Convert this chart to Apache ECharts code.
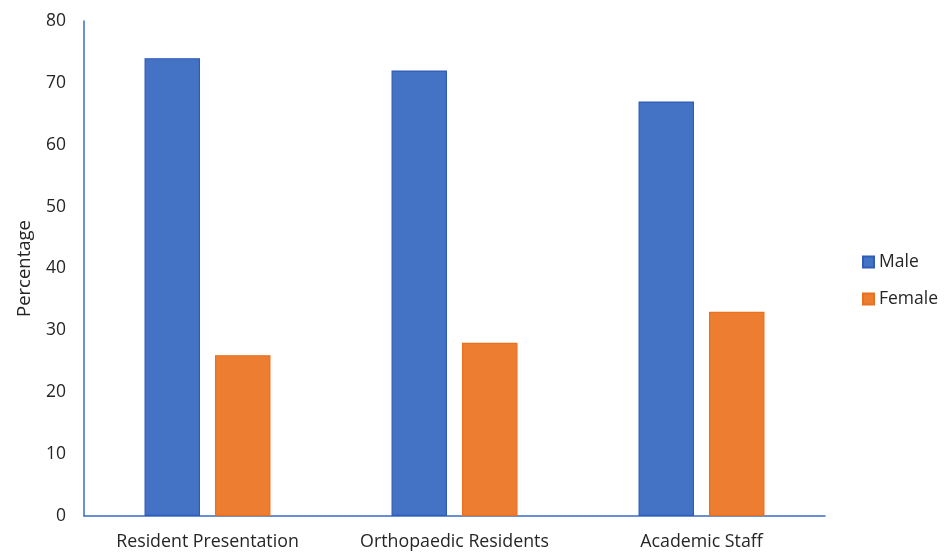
<!DOCTYPE html>
<html><head><meta charset="utf-8">
<script src="https://cdn.jsdelivr.net/npm/echarts@6/dist/echarts.min.js"></script>
<style>html,body{margin:0;padding:0;background:#fff}#c{width:945px;height:552px}</style>
</head><body><div id="c"></div>
<script>
const categories = ["Resident Presentation", "Orthopaedic Residents", "Academic Staff"];
const maleValues = [74, 72, 67];
const femaleValues = [26, 28, 33];
const yTicks = [0, 10, 20, 30, 40, 50, 60, 70, 80];

const font = "'Open Sans', 'Noto Sans', sans-serif";
const chart = echarts.init(document.getElementById('c'));
chart.setOption({
  animation: false,
  textStyle: { fontFamily: font },
  grid: { left: 84, right: 120, top: 21, bottom: 36 },
  legend: {
    orient: 'vertical', left: 857, top: 248, icon: 'rect',
    itemWidth: 11, itemHeight: 11, itemGap: 19,
    textStyle: { fontSize: 17.5, color: '#262626', fontFamily: font },
    data: ['Male', 'Female']
  },
  xAxis: {
    type: 'category', data: categories,
    axisLine: { lineStyle: { color: '#3A6BC9', width: 1.5 } },
    axisTick: { show: false },
    axisLabel: { fontSize: 17.8, color: '#262626', margin: 17, fontFamily: font }
  },
  yAxis: {
    type: 'value', min: yTicks[0], max: yTicks[yTicks.length - 1], interval: 10,
    name: 'Percentage', nameLocation: 'middle', nameGap: 50, nameRotate: 90,
    nameTextStyle: { fontSize: 18.5, color: '#262626', fontFamily: font },
    axisLine: { show: true, lineStyle: { color: '#3A6BC9', width: 1.5 } },
    axisTick: { show: false },
    splitLine: { show: false },
    axisLabel: { fontSize: 17.5, color: '#262626', margin: 18, fontFamily: font }
  },
  series: [
    { name: 'Male', type: 'bar', data: maleValues, barGap: '27%', barCategoryGap: '49%',
      itemStyle: { color: '#4472C4', borderColor: '#2F5CB8', borderWidth: 1.2 } },
    { name: 'Female', type: 'bar', data: femaleValues,
      itemStyle: { color: '#ED7D31', borderColor: '#E8701E', borderWidth: 1.2 } }
  ]
});
</script></body></html>
